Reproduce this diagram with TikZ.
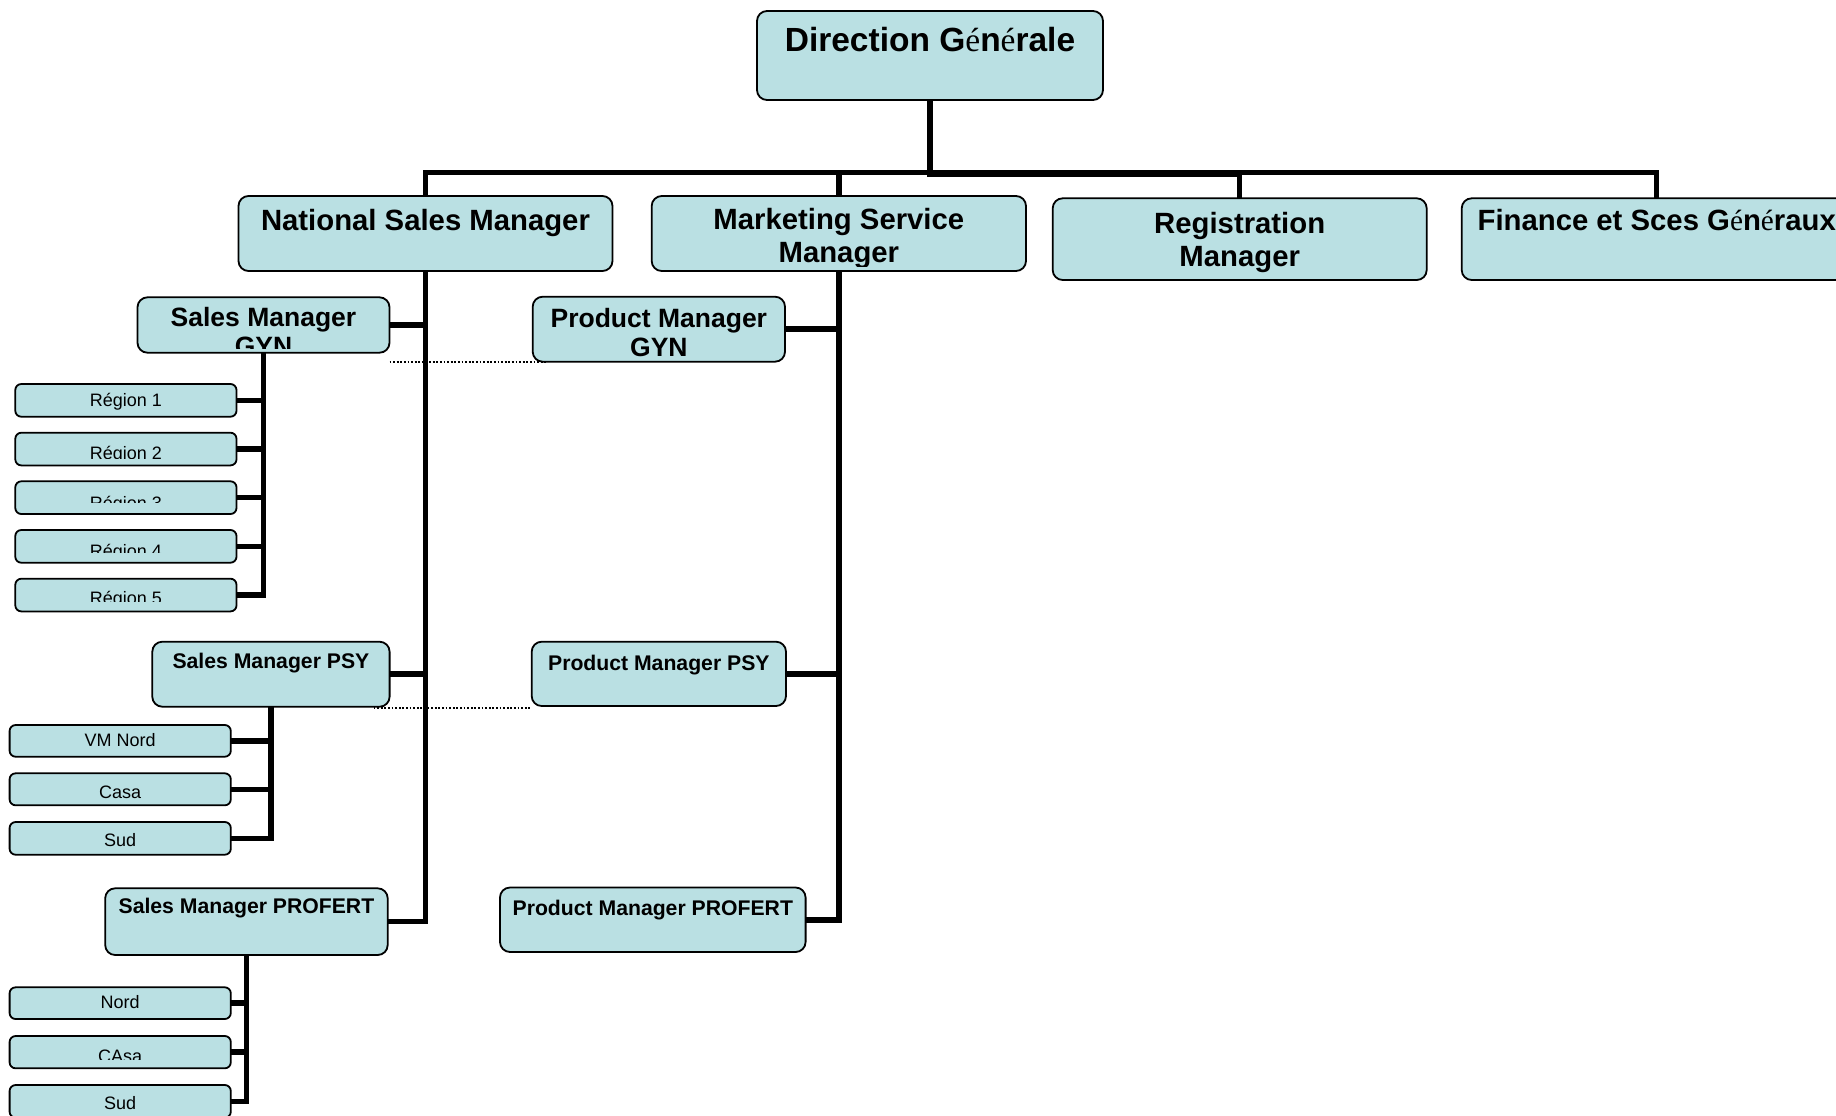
\documentclass[tikz,border=0pt]{standalone}
\usepackage{fontspec}
\setmainfont{Liberation Sans}
\newfontfamily\serifE{Liberation Serif}
\newcommand\sE{{\serifE\mdseries é}}
\newcommand\fDG{\fontsize{16.75}{20}\selectfont\bfseries}
\newcommand\fLa{\fontsize{14.65}{16.7}\selectfont\bfseries}
\newcommand\fLb{\fontsize{13.25}{14.7}\selectfont\bfseries}
\newcommand\fLc{\fontsize{10.6}{12.7}\selectfont\bfseries}
\newcommand\fLd{\fontsize{9}{10.8}\selectfont\mdseries}
\definecolor{boxfill}{RGB}{186,224,227}
\usetikzlibrary{backgrounds}
\begin{document}
\begin{tikzpicture}[x=0.5pt,y=-0.5pt,
  orgbox/.style={draw=black, line width=0.9pt, fill=boxfill, rounded corners=5pt,
    anchor=north west, inner sep=0pt, outer sep=0pt},
  sbox/.style={orgbox, rounded corners=3pt, minimum width=110.6pt},
  lbl/.style n args={4}{path picture={
     \clip ([yshift=#3]path picture bounding box.south west) rectangle (path picture bounding box.north east);
     \node[anchor=base, font=#1, inner sep=0pt, outer sep=0pt, draw=none, fill=none,
       align=center, minimum width=0pt, minimum height=0pt, text=black]
       at ([yshift=-#2]path picture bounding box.north) {#4};}},
  conn/.style={draw=black, line width=2.75pt, line join=miter},
  connB/.style={draw=black, line width=3.4pt, line join=miter},
  rel/.style={draw=black, line width=0.9pt, dash pattern=on 0.9pt off 0.9pt}
]
\path[use as bounding box] (0,0) rectangle (1836,1115);
\clip (0,0) rectangle (1836,1115);

% top level
\node[orgbox, minimum width=173pt, minimum height=44.5pt,
  lbl={\fDG}{20pt}{0pt}{Direction G\sE n\sE rale}] (dg) at (757,11) {};

% second level (offset = baseline of the last line)
\node[orgbox, minimum width=187pt, minimum height=37.5pt,
  lbl={\fLa}{17pt}{0pt}{National Sales Manager}] (nsm) at (238.5,196) {};
\node[orgbox, minimum width=187.15pt, minimum height=37.5pt,
  lbl={\fLa}{33.35pt}{2.5pt}{Marketing Service\\Manager}] (msm) at (651.7,196) {};
\node[orgbox, minimum width=187pt, minimum height=40.85pt,
  lbl={\fLa}{34.2pt}{0pt}{Registration\\Manager}] (rm) at (1052.7,198.3) {};
\node[orgbox, minimum width=195pt, minimum height=40.85pt,
  lbl={\fLa}{16.2pt}{0pt}{Finance et Sces G\sE n\sE raux}] (fsg) at (1461.7,198.3) {};

% third level
\node[orgbox, minimum width=126pt, minimum height=27.7pt,
  lbl={\fLb}{29.05pt}{2.2pt}{Sales Manager\\GYN}] (smgyn) at (137.5,297.3) {};
\node[orgbox, minimum width=126.15pt, minimum height=32.5pt,
  lbl={\fLb}{30pt}{2pt}{Product Manager\\GYN}] (pmgyn) at (532.7,296.7) {};
\node[orgbox, minimum width=118.65pt, minimum height=32.5pt,
  lbl={\fLc}{13.3pt}{0pt}{Sales Manager PSY}] (smpsy) at (152.3,641.7) {};
\node[orgbox, minimum width=127.15pt, minimum height=32.15pt,
  lbl={\fLc}{14.15pt}{0pt}{Product Manager PSY}] (pmpsy) at (531.7,641.7) {};
\node[orgbox, minimum width=141.25pt, minimum height=33.35pt,
  lbl={\fLc}{12.6pt}{0pt}{Sales Manager PROFERT}] (smprof) at (105.2,888.3) {};
\node[orgbox, minimum width=152.8pt, minimum height=32.25pt,
  lbl={\fLc}{14.2pt}{0pt}{Product Manager PROFERT}] (pmprof) at (500,887.5) {};

% regions GYN
\node[sbox, minimum height=16.35pt, lbl={\fLd}{11pt}{0pt}{Région 1}] (r1) at (15.3,384) {};
\node[sbox, minimum height=16.35pt, lbl={\fLd}{13.6pt}{3.6pt}{Région 2}] (r2) at (15.3,432.7) {};
\node[sbox, minimum height=16.35pt, lbl={\fLd}{14.05pt}{5.65pt}{Région 3}] (r3) at (15.3,481.3) {};
\node[sbox, minimum height=16.35pt, lbl={\fLd}{13.85pt}{5pt}{Région 4}] (r4) at (15.3,530) {};
\node[sbox, minimum height=16.35pt, lbl={\fLd}{12.85pt}{5pt}{Région 5}] (r5) at (15.3,578.7) {};

% PSY
\node[sbox, minimum height=15.85pt, lbl={\fLd}{10.5pt}{0pt}{VM Nord}] (vmn) at (9.6,725) {};
\node[sbox, minimum height=16pt, lbl={\fLd}{12.5pt}{0pt}{Casa}] (casa) at (9.6,773.3) {};
\node[sbox, minimum height=16.35pt, lbl={\fLd}{12.35pt}{0pt}{Sud}] (sud1) at (9.6,822) {};

% PROFERT
\node[sbox, minimum height=15.85pt, lbl={\fLd}{10.5pt}{0pt}{Nord}] (nord) at (9.6,987.3) {};
\node[sbox, minimum height=16.15pt, lbl={\fLd}{13.35pt}{4.5pt}{CAsa}] (casa2) at (9.6,1036) {};
\node[sbox, minimum height=16.35pt, lbl={\fLd}{12.2pt}{0pt}{Sud}] (sud2) at (9.6,1085) {};

\coordinate (bus) at (0,172.5);
\coordinate (busb) at (0,173.5);

\begin{pgfonlayer}{background}
  % top connectors
  \draw[conn] (nsm.north) -- (nsm.north |- bus) -- (fsg.north |- bus) -- (fsg.north);
  \draw[conn] (msm.north) -- (msm.north |- bus);
  \draw[conn] (rm.north) -- (rm.north |- bus);
  \draw[connB] (dg.south) |- (rm.north |- busb);
  % national sales manager
  \draw[conn] (nsm.south) |- (smprof.east);
  \draw[conn] (smgyn.east) -- (smgyn.east -| nsm.south);
  \draw[conn] (smpsy.east) -- (smpsy.east -| nsm.south);
  % marketing service manager
  \draw[conn] (msm.south) |- (pmprof.east);
  \draw[conn] (pmgyn.east) -- (pmgyn.east -| msm.south);
  \draw[conn] (pmpsy.east) -- (pmpsy.east -| msm.south);
  % regions
  \draw[conn] (smgyn.south) |- (r5.east);
  \foreach \n in {r1,r2,r3,r4} \draw[conn] (\n.east) -- (\n.east -| smgyn.south);
  \draw[conn] (smpsy.south) |- (sud1.east);
  \foreach \n in {vmn,casa} \draw[conn] (\n.east) -- (\n.east -| smpsy.south);
  \draw[conn] (smprof.south) |- (sud2.east);
  \foreach \n in {nord,casa2} \draw[conn] (\n.east) -- (\n.east -| smprof.south);
  % dotted relations
  \draw[rel] (smgyn.east |- pmgyn.south) -- ([xshift=7pt]pmgyn.south west);
  \draw[rel] ([xshift=-8pt,yshift=-0.5pt]smpsy.south east) -- ([yshift=-0.5pt]smpsy.south east -| pmpsy.west);
\end{pgfonlayer}
\end{tikzpicture}
\end{document}
